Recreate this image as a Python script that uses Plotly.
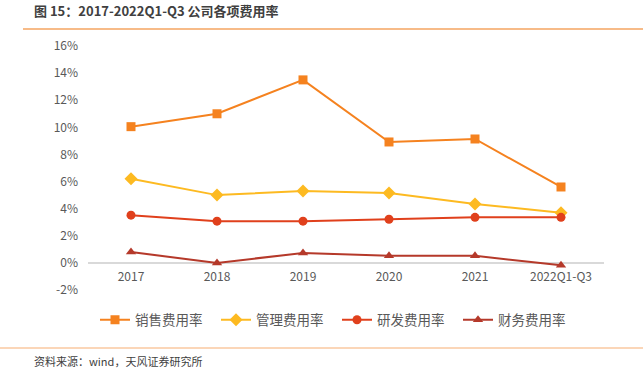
import plotly.graph_objects as go

categories = ["2017", "2018", "2019", "2020", "2021", "2022Q1-Q3"]
sales = [10.05, 11.0, 13.5, 8.92, 9.14, 5.6]
admin = [6.2, 5.0, 5.3, 5.15, 4.35, 3.7]
rnd = [3.52, 3.08, 3.08, 3.22, 3.36, 3.36]
finance = [0.8, 0.0, 0.73, 0.52, 0.52, -0.18]
tick_vals = [-2, 0, 2, 4, 6, 8, 10, 12, 14, 16]
tick_text = [f"{v}%" for v in tick_vals]

series = [
    ("销售费用率", sales, "#F5821F", "square", 9),
    ("管理费用率", admin, "#FDBA21", "diamond", 10),
    ("研发费用率", rnd, "#E0401C", "circle", 9),
    ("财务费用率", finance, "#B5392A", "triangle-up", 9),
]

fig = go.Figure()
for name, vals, color, sym, sz in series:
    fig.add_trace(go.Scatter(
        x=categories, y=vals, name=name, mode="lines+markers",
        line=dict(color=color, width=2),
        marker=dict(symbol=sym, size=sz, color=color),
    ))

W, H = 643, 384
L, T, R, B = 88, 46, 39, 94
PW, PH = W - L - R, H - T - B


def px_x(x):
    return (x - L) / PW


def px_y(y):
    return (H - B - y) / PH


font_family = "Noto Sans CJK SC, Noto Sans, sans-serif"
fig.update_layout(
    width=W, height=H,
    margin=dict(l=L, r=R, t=T, b=B, autoexpand=False),
    paper_bgcolor="white", plot_bgcolor="white",
    font=dict(family=font_family, size=12, color="#595959"),
    showlegend=True,
    legend=dict(orientation="h", x=px_x(95), xanchor="left",
                y=px_y(320), yanchor="middle", entrywidth=76,
                font=dict(size=13.5, color="#595959"),
                traceorder="normal"),
    xaxis=dict(type="category", showgrid=False, showline=False, ticks="",
               anchor="free", position=2 / 18, ticklabelstandoff=5,
               tickfont=dict(size=12, color="#595959"), range=[-0.5, 5.5]),
    yaxis=dict(range=[-2, 16], tickvals=tick_vals, ticktext=tick_text,
               showgrid=False, zeroline=True, zerolinecolor="#D9D9D9",
               zerolinewidth=1.5, showline=False, ticks="",
               ticklabelstandoff=9,
               tickfont=dict(size=12, color="#595959")),
)
fig.add_annotation(text="<b>图 15：2017-2022Q1-Q3 公司各项费用率</b>",
                   xref="paper", yref="paper", x=px_x(32), y=px_y(10),
                   xanchor="left", yanchor="middle", showarrow=False,
                   font=dict(size=13, color="#404040", family=font_family))
fig.add_annotation(text="资料来源：wind，天风证券研究所",
                   xref="paper", yref="paper", x=px_x(32), y=px_y(361),
                   xanchor="left", yanchor="middle", showarrow=False,
                   font=dict(size=11, color="#404040", family=font_family))
fig.add_shape(type="line", xref="paper", yref="paper",
              x0=px_x(23), x1=px_x(643), y0=px_y(29), y1=px_y(29),
              line=dict(color="#F4A460", width=1.5))
fig.add_shape(type="line", xref="paper", yref="paper",
              x0=px_x(0), x1=px_x(643), y0=px_y(348), y1=px_y(348),
              line=dict(color="#FAC9A0", width=1.5))

fig.write_html("out.html", config={"displayModeBar": False},
               post_script="document.body.style.margin='0';")
